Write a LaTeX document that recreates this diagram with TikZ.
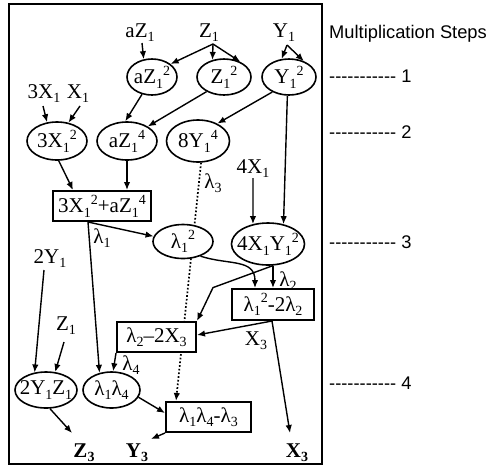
\documentclass[tikz,border=0pt]{standalone}
\usepackage{fontspec}
\setmainfont{Liberation Serif}
\newfontfamily\sansf{Liberation Sans}
\usetikzlibrary{arrows.meta,calc,shapes.geometric}
\pgfdeclarelayer{bg}
\pgfsetlayers{bg,main}
\newcommand\sbx[1]{\raisebox{-0.2em}{\fontsize{14}{14}\selectfont #1}}
\newcommand\spx[1]{\raisebox{0.42em}{\fontsize{14}{14}\selectfont #1}}
\newcommand\ec[1]{\makebox[0pt]{#1}}
\newcommand\hy{-\kern0pt}
\newcommand\dashrow{\hy\hy\hy\hy\hy\hy\hy\hy\hy\hy\hy}
\tikzset{
  every node/.style={font=\fontsize{21}{23}\selectfont, inner sep=1.5pt},
  ell/.style={draw, ellipse, line width=1.6pt, fill=white, inner sep=0pt},
  boxn/.style={draw, rectangle, line width=2pt, fill=white, inner sep=0pt},
  txt/.style={anchor=base},
  steplbl/.style={anchor=base west, inner sep=0pt, font=\sansf\fontsize{18.3}{20}\selectfont},
  arr/.style={-{Latex[length=8pt,width=6.5pt]}, line width=1.4pt},
  dotarr/.style={-{Latex[length=8pt,width=6.5pt]}, line width=1.7pt, dash pattern=on 1.7pt off 2pt},
}
\begin{document}
\begin{tikzpicture}[x=1pt,y=-1pt]
\useasboundingbox (0,0) rectangle (489,467);
\draw[line width=2pt] (9,4) rectangle (322,464);

% step labels
\node[steplbl] (ms) at (329,38) {Multiplication Steps};
\node[steplbl] (s1) at (329,82) {\dashrow\ 1};
\node[steplbl] (s2) at (329,138) {\dashrow\ 2};
\node[steplbl] (s3) at (329,248) {\dashrow\ 3};
\node[steplbl] (s4) at (329,389) {\dashrow\ 4};

% inputs
\node[txt] (az) at (140,37) {aZ\sbx{1}};
\node[txt] (z) at (209,37) {Z\sbx{1}};
\node[txt] (yt) at (284,37) {Y\sbx{1}};
\node[txt] (x3t) at (44,98) {3X\sbx{1}};
\node[txt] (x1t) at (78,98) {X\sbx{1}};
\node[txt] (x4t) at (253,173) {4X\sbx{1}};
\node[txt] (y2t) at (50,263) {2Y\sbx{1}};
\node[txt] (zl) at (66,330) {Z\sbx{1}};

% ellipses
\node[ell, minimum width=50pt, minimum height=36pt] (az2) at (152,77) {\ec{aZ\sbx{1}\spx{2}}};
\node[ell, minimum width=54pt, minimum height=36pt] (z12) at (224,77) {\ec{Z\sbx{1}\spx{2}}};
\node[ell, minimum width=54pt, minimum height=36pt] (y12) at (289,77) {\ec{Y\sbx{1}\spx{2}}};
\node[ell, minimum width=60pt, minimum height=38pt] (x32) at (57,141) {\ec{3X\sbx{1}\spx{2}}};
\node[ell, minimum width=60pt, minimum height=38pt] (az4) at (127,141) {\ec{aZ\sbx{1}\spx{4}}};
\node[ell, minimum width=63pt, minimum height=42pt] (y84) at (198,141) {\ec{8Y\sbx{1}\spx{4}}};
\node[ell, minimum width=60pt, minimum height=34pt] (l12) at (183,241.5) {\ec{λ\sbx{1}\spx{2}}};
\node[ell, minimum width=73pt, minimum height=42pt] (x4y) at (268,244) {\ec{4X\sbx{1}Y\sbx{1}\spx{2}}};
\node[ell, minimum width=62pt, minimum height=36pt] (yz) at (46,390) {\ec{2Y\sbx{1}Z\sbx{1}}};
\node[ell, minimum width=57pt, minimum height=36pt] (l14) at (111.5,390) {\ec{λ\sbx{1}λ\sbx{4}}};

% boxes
\node[boxn, minimum width=98pt, minimum height=30pt] (r1) at (102,206) {3X\sbx{1}\spx{2}+aZ\sbx{1}\spx{4}};
\node[boxn, minimum width=82pt, minimum height=31pt] (r2) at (273,304.5) {λ\sbx{1}\spx{2}-2λ\sbx{2}};
\node[boxn, minimum width=79pt, minimum height=30pt] (r3) at (156.5,337) {λ\sbx{2}–2X\sbx{3}};
\node[boxn, minimum width=85pt, minimum height=30pt] (r4) at (208.5,417) {λ\sbx{1}λ\sbx{4}-λ\sbx{3}};

% outputs
\node[txt] (z3b) at (84,457) {\textbf{Z\sbx{3}}};
\node[txt] (y3b) at (137,457) {\textbf{Y\sbx{3}}};
\node[txt] (x3b) at (297,457) {\textbf{X\sbx{3}}};

% edge labels
\node[txt] (lb1) at (102,243) {λ\sbx{1}};
\node[txt] (lb3) at (213,188) {λ\sbx{3}};
\node[txt] (lb2) at (288,286) {λ\sbx{2}};
\node[txt] (lbx) at (256,345) {X\sbx{3}};
\node[txt] (lb4) at (131,370) {λ\sbx{4}};

% dotted connector behind nodes
\begin{pgfonlayer}{bg}
\draw[dotarr] (y84.278) -- ([xshift=-32.5pt]r4.north);
\end{pgfonlayer}

% connectors
\draw[arr] ([shift={(2pt,-6pt)}]az.base) -- (az2.115);
\draw[arr] ([shift={(4pt,-7pt)}]z.base) -- (az2.35);
\draw[arr] ([shift={(4pt,-7pt)}]z.base) -- (z12.124);
\draw[arr] ([shift={(4pt,-7pt)}]z.base) -- (z12.43);
\draw[arr] ([shift={(3pt,-8pt)}]yt.base) -- (y12.112);
\draw[arr] ([shift={(3pt,-8pt)}]yt.base) -- (y12.47);
\draw[arr] ([shift={(-1pt,-8pt)}]x3t.base) -- (x32.118);
\draw[arr] ([shift={(2pt,-8pt)}]x1t.base) -- (x32.58);
\draw[arr] (az2.240) -- (az4.95);
\draw[arr] (z12.220) -- (az4.35);
\draw[arr] (y12.222) -- (y84.42);
\draw[arr] (y12.265) -- (x4y.52);
\draw[arr] ([yshift=-5pt]x4t.base) -- (x4y.127);
\draw[arr] (x32.275) -- ([xshift=-29pt]r1.north);
\draw[arr] (az4.south) -- (az4.south |- r1.north);
\draw[arr] ([xshift=-14pt]r1.south) -- (l12.170);
\draw[arr] ([xshift=-14pt]r1.south) -- (l14.125);
\draw[arr] (l12.320) to[out=-18,in=90,looseness=1.2] ([xshift=-18pt]r2.north);
\draw[arr] (x4y.283) -- ++(-60,22) -- (r3.north east);
\draw[arr] (x4y.283) -- (x4y.283 |- r2.north);
\draw[arr] ([xshift=-1pt]r2.south) -- ([yshift=2pt]r3.east);
\draw[arr] ([xshift=-1pt]r2.south) -- ([shift={(-7pt,24pt)}]x3b.base);
\draw[arr] (r3.south west) -- (l14.85);
\draw[arr] ([shift={(-6pt,-7pt)}]y2t.base) -- (yz.123);
\draw[arr] ([shift={(-2pt,-12pt)}]zl.base) -- (yz.63);
\draw[arr] (yz.282) -- ([shift={(-12pt,24pt)}]z3b.base);
\draw[arr] (l14.345) -- ([yshift=4pt]r4.west);
\draw[arr] (r4.south west) -- ([shift={(14pt,18pt)}]y3b.base);
\end{tikzpicture}
\end{document}
